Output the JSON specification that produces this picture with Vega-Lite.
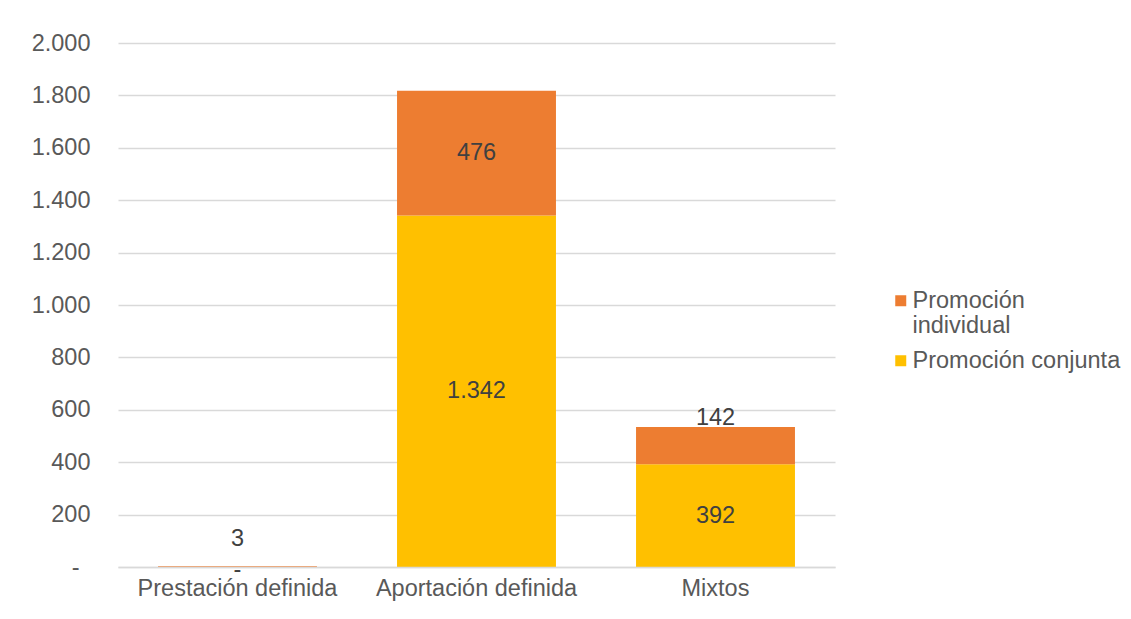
{
  "$schema": "https://vega.github.io/schema/vega-lite/v6.json",
  "width": 717,
  "height": 524,
  "autosize": {"type": "none"},
  "padding": {"left": 118, "top": 43, "right": 296, "bottom": 52},
  "background": "white",
  "data": {
    "values": [
      {"tipo": "Prestación definida", "serie": "Promoción conjunta", "valor": 0},
      {"tipo": "Prestación definida", "serie": "Promoción individual", "valor": 3},
      {"tipo": "Aportación definida", "serie": "Promoción conjunta", "valor": 1342},
      {"tipo": "Aportación definida", "serie": "Promoción individual", "valor": 476},
      {"tipo": "Mixtos", "serie": "Promoción conjunta", "valor": 392},
      {"tipo": "Mixtos", "serie": "Promoción individual", "valor": 142}
    ]
  },
  "transform": [
    {"stack": "valor", "groupby": ["tipo"], "sort": [{"field": "serie", "order": "ascending"}], "as": ["v0", "v1"]},
    {"calculate": "(datum.v0 + datum.v1) / 2", "as": "mid"},
    {"calculate": "datum.valor == 0 ? '-' : replace(format(datum.valor, ','), ',', '.')", "as": "etiqueta"}
  ],
  "encoding": {
    "x": {
      "field": "tipo",
      "type": "nominal",
      "sort": ["Prestación definida", "Aportación definida", "Mixtos"],
      "scale": {"paddingInner": 0, "paddingOuter": 0},
      "axis": {
        "title": null,
        "labelAngle": 0,
        "ticks": false,
        "domain": true,
        "domainColor": "#D9D9D9",
        "domainWidth": 1.5,
        "labelPadding": 9,
        "labelLimit": 400,
        "labelFontSize": 23.5,
        "labelColor": "#595959",
        "labelFont": "Liberation Sans",
        "zindex": 1
      }
    }
  },
  "layer": [
    {
      "mark": {"type": "bar", "width": {"band": 0.665}},
      "encoding": {
        "y": {
          "field": "v0",
          "type": "quantitative",
          "scale": {"domain": [0, 2000]},
          "axis": {
            "title": null,
            "values": [0, 200, 400, 600, 800, 1000, 1200, 1400, 1600, 1800, 2000],
            "labelExpr": "datum.value == 0 ? '-' : replace(format(datum.value, ','), ',', '.')",
            "domain": false,
            "ticks": false,
            "grid": true,
            "gridColor": "#D9D9D9",
            "gridWidth": 1.5,
            "labelPadding": {"condition": {"test": "datum.value == 0", "value": 39}, "value": 28},
            "labelFontSize": 23.5,
            "labelColor": "#595959",
            "labelFont": "Liberation Sans"
          }
        },
        "y2": {"field": "v1"},
        "color": {
          "field": "serie",
          "type": "nominal",
          "scale": {"domain": ["Promoción individual", "Promoción conjunta"], "range": ["#ED7D31", "#FFC000"]},
          "legend": {
            "title": null,
            "orient": "none",
            "legendX": 771,
            "legendY": 246,
            "symbolType": "square",
            "symbolSize": 121,
            "symbolStrokeWidth": 0,
            "labelFontSize": 23.5,
            "labelColor": "#595959",
            "labelFont": "Liberation Sans",
            "labelLimit": 400,
            "labelOffset": 0,
            "labelLineHeight": 28,
            "rowPadding": 10,
            "labelExpr": "datum.label == 'Promoción individual' ? ['Promoción', 'individual'] : datum.label"
          }
        }
      }
    },
    {
      "transform": [{"filter": "datum.valor > 0 && (datum.serie == 'Promoción conjunta' || datum.valor >= 200)"}],
      "mark": {"type": "text", "fontSize": 23.5, "color": "#404040", "font": "Liberation Sans", "baseline": "middle"},
      "encoding": {
        "y": {"field": "mid", "type": "quantitative"},
        "text": {"field": "etiqueta"}
      }
    },
    {
      "transform": [{"filter": "datum.valor == 0"}],
      "mark": {"type": "text", "fontSize": 23.5, "color": "#404040", "font": "Liberation Sans", "baseline": "middle", "dy": 3},
      "encoding": {
        "y": {"field": "mid", "type": "quantitative"},
        "text": {"field": "etiqueta"}
      }
    },
    {
      "transform": [{"filter": "datum.serie == 'Promoción individual' && datum.valor < 200"}],
      "mark": {"type": "text", "fontSize": 23.5, "color": "#404040", "font": "Liberation Sans", "baseline": "middle", "dy": -28},
      "encoding": {
        "y": {"field": "mid", "type": "quantitative"},
        "text": {"field": "etiqueta"}
      }
    }
  ],
  "config": {"view": {"stroke": null}}
}
